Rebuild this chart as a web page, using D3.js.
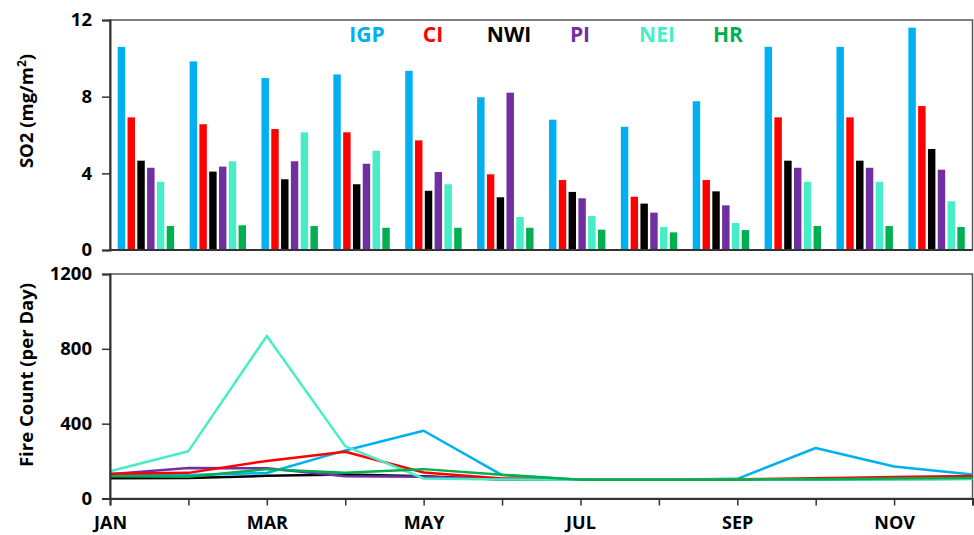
<!DOCTYPE html>
<html>
<head>
<meta charset="utf-8">
<script src="https://cdn.jsdelivr.net/npm/d3@7"></script>
<style>
  body { margin: 0; background: #fff; }
  svg text { font-family: 'Open Sans', 'Noto Sans', sans-serif; }
</style>
</head>
<body>
<div id="chart"></div>
<script>
'use strict';

var months = ['JAN', 'FEB', 'MAR', 'APR', 'MAY', 'JUN', 'JUL', 'AUG', 'SEP', 'OCT', 'NOV', 'DEC'];
var regions = ['IGP', 'CI', 'NWI', 'PI', 'NEI', 'HR'];
var regionColors = ['#00b0f0', '#ff0000', '#000000', '#7030a0', '#47edc6', '#00b050'];

// SO2 (mg/m2), one array per region
var so2IGP = [10.6, 9.84, 8.97, 9.16, 9.35, 7.97, 6.8, 6.43, 7.76, 10.6, 10.6, 11.6];
var so2CI = [6.92, 6.56, 6.31, 6.14, 5.72, 3.95, 3.65, 2.78, 3.65, 6.92, 6.92, 7.51];
var so2NWI = [4.66, 4.09, 3.69, 3.43, 3.09, 2.75, 3.03, 2.42, 3.06, 4.66, 4.66, 5.27];
var so2PI = [4.29, 4.35, 4.63, 4.5, 4.07, 8.21, 2.7, 1.95, 2.33, 4.29, 4.29, 4.19];
var so2NEI = [3.56, 4.63, 6.14, 5.18, 3.43, 1.72, 1.77, 1.2, 1.41, 3.56, 3.56, 2.54];
var so2HR = [1.25, 1.29, 1.25, 1.16, 1.16, 1.16, 1.06, 0.92, 1.04, 1.25, 1.25, 1.2];

// fire count (per day)
var fireIGP = [125, 125, 136, 257, 362, 125, 100, 100, 105, 270, 171, 128];
var fireCI = [132, 137, 201, 250, 139, 107, 100, 100, 103, 108, 115, 120];
var fireNWI = [108, 110, 121, 128, 119, 102, 100, 100, 100, 102, 105, 108];
var firePI = [130, 163, 162, 119, 116, 103, 100, 100, 100, 102, 103, 105];
var fireNEI = [146, 253, 869, 280, 107, 102, 100, 100, 100, 102, 102, 104];
var fireHR = [119, 116, 157, 138, 157, 127, 100, 100, 100, 103, 107, 110];

var so2Ticks = [0, 4, 8, 12];
var fireTicks = [0, 400, 800, 1200];

var so2Series = [so2IGP, so2CI, so2NWI, so2PI, so2NEI, so2HR];
var fireSeries = [fireIGP, fireCI, fireNWI, firePI, fireNEI, fireHR];

var width = 974, height = 535;
var left = 110, right = 972.5;
var top1 = 20, bottom1 = 250;
var top2 = 274, bottom2 = 498.5;

var svg = d3.select('#chart').append('svg')
  .attr('width', width)
  .attr('height', height);

// ---------- top panel: bars ----------
var x0 = d3.scaleBand()
  .domain(months)
  .range([left, right])
  .paddingInner(0.215)
  .paddingOuter(0.1075);

var x1 = d3.scaleBand()
  .domain(regions)
  .range([0, x0.bandwidth()])
  .paddingInner(0.24);

var y1 = d3.scaleLinear().domain([0, 12]).range([bottom1, top1]);

var barData = [];
months.forEach(function (m, i) {
  regions.forEach(function (r, j) {
    barData.push({ month: m, region: r, color: regionColors[j], value: so2Series[j][i] });
  });
});

svg.append('g')
  .selectAll('rect')
  .data(barData)
  .enter()
  .append('rect')
  .attr('x', function (d) { return x0(d.month) + x1(d.region); })
  .attr('y', function (d) { return y1(d.value); })
  .attr('width', x1.bandwidth())
  .attr('height', function (d) { return bottom1 - y1(d.value); })
  .attr('fill', function (d) { return d.color; });

// frame
svg.append('rect')
  .attr('x', left).attr('y', top1)
  .attr('width', right - left).attr('height', bottom1 - top1)
  .attr('fill', 'none').attr('stroke', '#555').attr('stroke-width', 1.5);

var yAxis1 = svg.append('g')
  .attr('transform', 'translate(' + left + ',0)')
  .call(d3.axisLeft(y1).tickValues(so2Ticks).tickSize(8).tickPadding(10).tickFormat(d3.format('d')));

svg.append('line')
  .attr('x1', left).attr('x2', right)
  .attr('y1', bottom1).attr('y2', bottom1)
  .attr('stroke', '#333').attr('stroke-width', 2);

// legend
var legendX = [367, 433, 509, 580, 657, 728];
svg.append('g')
  .selectAll('text')
  .data(regions)
  .enter()
  .append('text')
  .attr('x', function (d, i) { return legendX[i]; })
  .attr('y', 42)
  .attr('text-anchor', 'middle')
  .attr('font-size', 21)
  .attr('font-weight', 700)
  .attr('fill', function (d, i) { return regionColors[i]; })
  .text(function (d) { return d; });

svg.append('text')
  .attr('transform', 'translate(33,111) rotate(-90)')
  .attr('text-anchor', 'middle')
  .attr('font-size', 18.5)
  .attr('font-weight', 700)
  .attr('fill', '#000')
  .html('SO2 (mg/m<tspan dy="-7" font-size="12">2</tspan><tspan dy="7">)</tspan>');

// ---------- bottom panel: lines ----------
var xp = d3.scalePoint().domain(months).range([left, right]);
var y2 = d3.scaleLinear().domain([0, 1200]).range([bottom2, top2]);

svg.append('rect')
  .attr('x', left).attr('y', top2)
  .attr('width', right - left).attr('height', bottom2 - top2)
  .attr('fill', 'none').attr('stroke', '#555').attr('stroke-width', 1.5);

var line = d3.line()
  .x(function (d, i) { return xp(months[i]); })
  .y(function (d) { return y2(d); });

var drawOrder = [2, 3, 0, 1, 4, 5];
svg.append('g')
  .selectAll('path')
  .data(drawOrder)
  .enter()
  .append('path')
  .attr('d', function (k) { return line(fireSeries[k]); })
  .attr('fill', 'none')
  .attr('stroke', function (k) { return regionColors[k]; })
  .attr('stroke-width', 2.5)
  .attr('stroke-linejoin', 'round');

var yAxis2 = svg.append('g')
  .attr('transform', 'translate(' + left + ',0)')
  .call(d3.axisLeft(y2).tickValues(fireTicks).tickSize(8).tickPadding(10).tickFormat(d3.format('d')));

var xAxis2 = svg.append('g')
  .attr('transform', 'translate(0,' + bottom2 + ')')
  .call(d3.axisBottom(xp).tickSize(7).tickPadding(11)
    .tickFormat(function (d, i) { return i % 2 === 0 ? d : ''; }));

svg.append('text')
  .attr('transform', 'translate(33,375) rotate(-90)')
  .attr('text-anchor', 'middle')
  .attr('font-size', 18.5)
  .attr('font-weight', 700)
  .attr('fill', '#000')
  .text('Fire Count (per Day)');

// axis styling
[yAxis1, yAxis2, xAxis2].forEach(function (ax) {
  ax.select('.domain').attr('stroke', '#333').attr('stroke-width', 2);
  ax.selectAll('.tick line').attr('stroke', '#333').attr('stroke-width', 1.5);
  ax.selectAll('.tick text')
    .attr('fill', '#000')
    .attr('font-size', ax === xAxis2 ? 18 : 18.5)
    .attr('font-weight', 700)
    .style('font-family', "'Open Sans', 'Noto Sans', sans-serif");
});
</script>
</body>
</html>
